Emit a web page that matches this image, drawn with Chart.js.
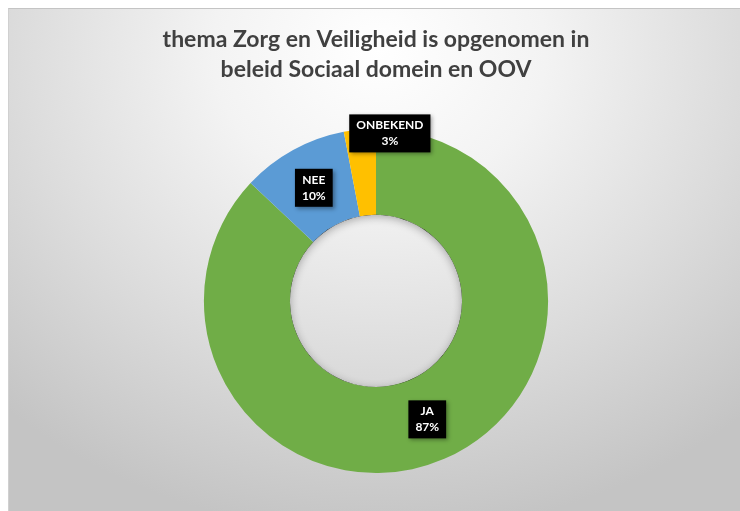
<!DOCTYPE html>
<html>
<head>
<meta charset="utf-8">
<script src="https://cdn.jsdelivr.net/npm/chart.js@4"></script>
<style>
  html, body { margin: 0; padding: 0; background: #fff; }
  #wrap { position: relative; width: 740px; height: 511px; overflow: hidden; }
  #panel {
    position: absolute; left: 8px; top: 8px; width: 740px; height: 510px;
    border-top: 1px solid #c4c4c4; border-left: 1px solid #d0d0d0;
    background: radial-gradient(ellipse 75% 95% at 50% 8%, #ffffff 0%, #f3f3f3 30%, #dcdcdc 65%, #c4c4c4 100%);
  }
  #chart { position: absolute; left: 0; top: 0; }
</style>
</head>
<body>
<div id="wrap">
  <div id="panel"></div>
  <canvas id="chart" width="740" height="511"></canvas>
</div>
<script>
// chart data
const categories = ['JA', 'NEE', 'ONBEKEND'];
const percentages = [87, 10, 3];
const sliceColors = ['#70ad47', '#5b9bd5', '#ffc000'];
const titleLines = ['thema Zorg en Veiligheid is opgenomen in', 'beleid Sociaal domein en OOV'];

// label boxes drawn in the middle of each slice (ONBEKEND was dragged out in the original)
const labelOffsets = { ONBEKEND: [26, -39] };

// soft shadow on the inside of the hole
const holeShadow = {
    id: 'holeShadow',
    afterDatasetsDraw(chart) {
        const arc = chart.getDatasetMeta(0).data[0];
        if (!arc) return;
        const ctx = chart.ctx;
        const r = arc.innerRadius;
        ctx.save();
        ctx.beginPath();
        ctx.arc(arc.x, arc.y, r, 0, Math.PI * 2);
        ctx.clip();
        ctx.beginPath();
        ctx.arc(arc.x, arc.y, r + 10, 0, Math.PI * 2);
        ctx.lineWidth = 20;
        ctx.strokeStyle = '#000';
        ctx.shadowColor = 'rgba(0,0,0,0.3)';
        ctx.shadowBlur = 8;
        ctx.shadowOffsetY = 2;
        ctx.stroke();
        ctx.restore();
    }
};

const boxLabels = {
    id: 'boxLabels',
    afterDatasetsDraw(chart) {
        const ctx = chart.ctx;
        const meta = chart.getDatasetMeta(0);
        ctx.save();
        ctx.font = 'bold 12px Lato, "Open Sans", sans-serif';
        ctx.textAlign = 'center';
        ctx.textBaseline = 'middle';
        meta.data.forEach((arc, i) => {
            const pos = arc.tooltipPosition();
            const off = labelOffsets[categories[i]] || [0, 0];
            const x = pos.x + off[0];
            const y = pos.y + off[1];
            const lines = [categories[i], percentages[i] + '%'];
            const w = Math.max(...lines.map(l => ctx.measureText(l).width)) + 14;
            const h = 38;
            ctx.shadowColor = 'rgba(0,0,0,0.35)';
            ctx.shadowBlur = 4;
            ctx.shadowOffsetX = 2;
            ctx.shadowOffsetY = 2;
            ctx.fillStyle = '#000';
            ctx.fillRect(x - w / 2, y - h / 2, w, h);
            ctx.shadowColor = 'transparent';
            ctx.fillStyle = '#fff';
            ctx.fillText(lines[0], x, y - 8);
            ctx.fillText(lines[1], x, y + 8);
        });
        ctx.restore();
    }
};

new Chart(document.getElementById('chart'), {
    type: 'doughnut',
    data: {
        labels: categories,
        datasets: [{
            data: percentages,
            backgroundColor: sliceColors,
            borderWidth: 0,
            hoverOffset: 0
        }]
    },
    options: {
        responsive: false,
        animation: false,
        cutout: '50%',
        layout: { padding: { left: 12, right: 0, top: 0, bottom: 38 } },
        plugins: {
            legend: { display: false },
            tooltip: { enabled: false },
            title: {
                display: true,
                text: titleLines,
                color: '#404040',
                font: { family: 'Lato, "Open Sans", sans-serif', size: 23, weight: 'bold', lineHeight: 1.3 },
                padding: { top: 25, bottom: 44 }
            }
        }
    },
    plugins: [holeShadow, boxLabels]
});
</script>
</body>
</html>
